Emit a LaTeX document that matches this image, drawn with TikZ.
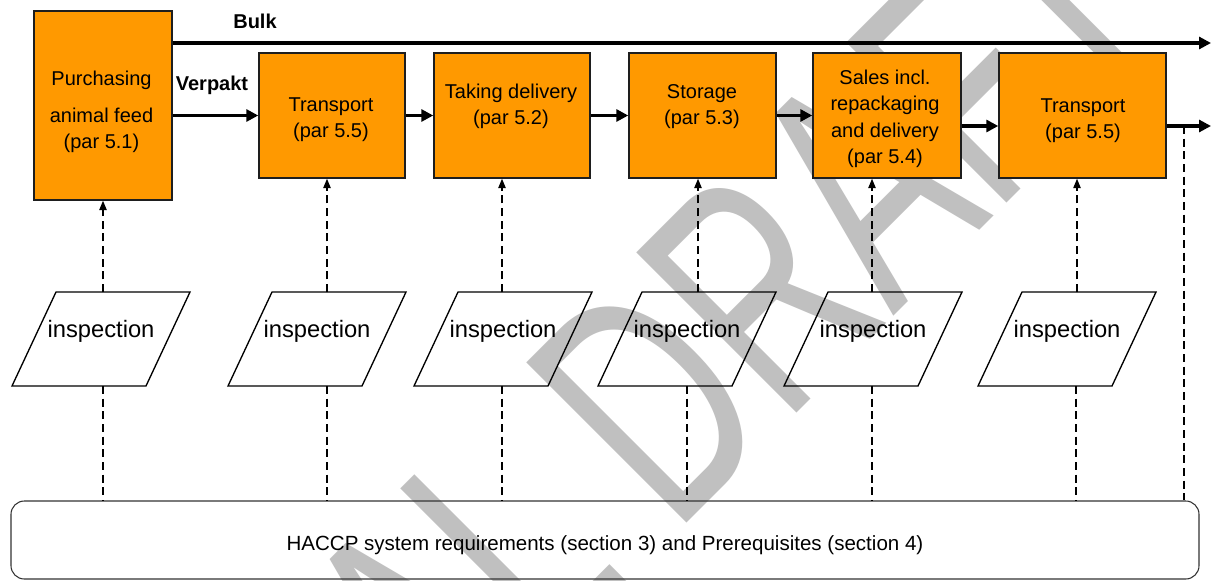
\documentclass[tikz,border=0pt]{standalone}
\usepackage{fontspec}
\setmainfont{Liberation Sans}
\usepackage{graphicx}
\usetikzlibrary{arrows.meta}
\definecolor{boxorange}{RGB}{255,153,0}
\definecolor{wmgray}{RGB}{192,192,192}
\definecolor{edgecol}{RGB}{30,30,30}
\def\px{0.75pt}
\begin{document}
\begin{tikzpicture}[x=0.75pt,y=-0.75pt,
  procbox/.style={draw=edgecol,fill=boxorange,line width=1.1pt,inner sep=0pt},
  boxtext/.style={font=\fontsize{15}{19.9}\selectfont,align=center,anchor=north,inner sep=0pt},
  flow/.style={line width=2.6pt,-{Triangle[length=9pt,width=9pt]}},
  dashup/.style={line width=1pt,dash pattern=on 6pt off 3.5pt,-{Triangle[length=7pt,width=5.5pt]}},
  dashline/.style={line width=1pt,dash pattern=on 6pt off 3.5pt},
  para/.style={draw=black,line width=1pt},
  insptext/.style={font=\fontsize{17.8}{21}\selectfont,anchor=base,inner sep=0pt},
  flowlabel/.style={font=\bfseries\fontsize{15}{18}\selectfont,anchor=base,inner sep=0pt},
  hacbox/.style={draw=black!80,line width=0.8pt,rounded corners=10pt,inner sep=0pt},
  hactext/.style={font=\fontsize{15.4}{18}\selectfont,anchor=base,inner sep=0pt},
  wm/.style={text=wmgray,font=\fontsize{247}{250}\selectfont,inner sep=0pt,anchor=base west,rotate=45}]
\useasboundingbox (0,0) rectangle (1212,581);
\fill[white] (0,0) rectangle (1212,581);
% watermark
\node[wm] (wm) at (203.7,1006.3) {\scalebox{0.65}[1]{FINAL DRAFT}};
% process boxes
\node[procbox,minimum width=138*\px,minimum height=189*\px] (b1) at (103,105.5) {};
\node[procbox,minimum width=146*\px,minimum height=125*\px] (b2) at (332,115.5) {};
\node[procbox,minimum width=156*\px,minimum height=125*\px] (b3) at (512,115.5) {};
\node[procbox,minimum width=147*\px,minimum height=125*\px] (b4) at (702.5,115.5) {};
\node[procbox,minimum width=148*\px,minimum height=125*\px] (b5) at (887,115.5) {};
\node[procbox,minimum width=167*\px,minimum height=125*\px] (b6) at (1082.5,115.5) {};
\node[boxtext] (t1) at (101.5,69) {\rule{0pt}{12pt}Purchasing\\[7.9pt]animal feed\\(par 5.1)};
\node[boxtext] (t2) at (331,95) {\rule{0pt}{12pt}Transport\\(par 5.5)};
\node[boxtext] (t3) at (511,82) {\rule{0pt}{12pt}Taking delivery\\(par 5.2)};
\node[boxtext] (t4) at (702,82) {\rule{0pt}{12pt}Storage\\(par 5.3)};
\node[boxtext] (t5) at (885,68) {\rule{0pt}{12pt}Sales incl.\\repackaging\\and delivery\\(par 5.4)};
\node[boxtext] (t6) at (1083,96) {\rule{0pt}{12pt}Transport\\(par 5.5)};
% labels
\node[flowlabel] (bulk) at (255,29) {Bulk};
\node[flowlabel] (verpakt) at (212,91) {Verpakt};
% flow arrows
\coordinate (bulkend) at (1211,43);
\coordinate (outend) at (1211,126);
\coordinate (tap) at (1184,126);
\draw[flow] (b1.east |- bulkend) -- (bulkend);
\draw[flow] (b1.east |- b2.west) -- (b2.west);
\draw[flow] (b2.east) -- (b3.west);
\draw[flow] (b3.east) -- (b4.west);
\draw[flow] (b4.east) -- (b5.west);
\draw[flow] (b5.east |- outend) -- (b6.west |- outend);
\draw[flow] (b6.east |- outend) -- (outend);
% HACCP box
\node[hacbox,minimum width=1188*\px,minimum height=78*\px] (hac) at (605,540) {};
\node[hactext] (hact) at (605,550) {HACCP system requirements (section 3) and Prerequisites (section 4)};
\draw[dashline] (tap) -- (tap |- hac.north);
% inspections
\foreach \n/\tl/\ux/\lx/\b in {1/56/103/103/b1,2/272/327/327/b2,3/458/502/502/b3,4/642/698/687/b4,5/828/872/872/b5,6/1022/1077/1076/b6} {
  \draw[para] (\tl,292) -- (\tl+134,292) -- (\tl+90,386) -- (\tl-44,386) -- cycle;
  \node[insptext] (i\n) at (\tl+45,337.5) {inspection};
  \coordinate (u\n) at (\ux,292);
  \coordinate (l\n) at (\lx,386);
  \draw[dashup] (u\n) -- (u\n |- \b.south);
  \draw[dashline] (l\n) -- (l\n |- hac.north);
}
\end{tikzpicture}
\end{document}
